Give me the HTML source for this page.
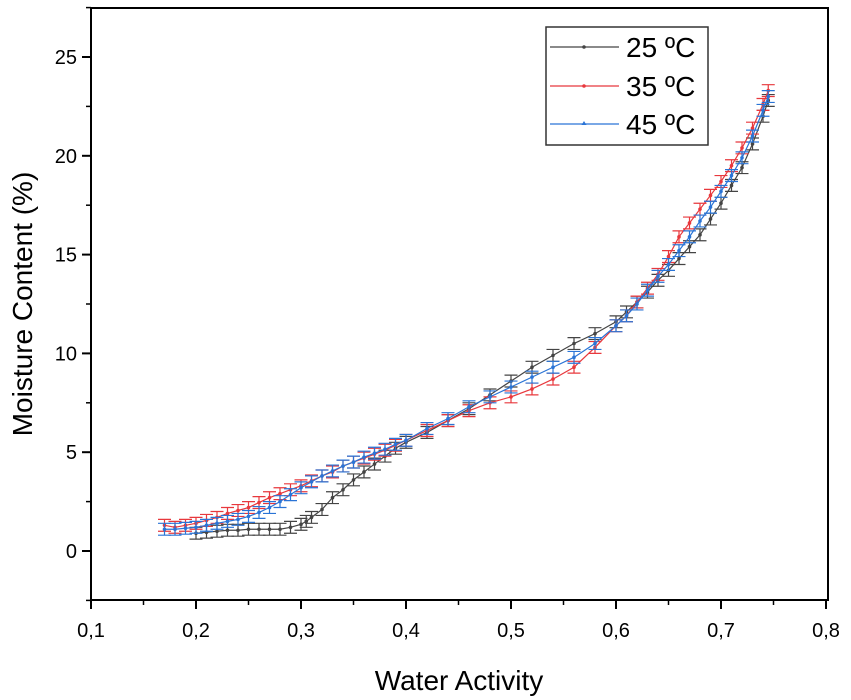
<!DOCTYPE html>
<html><head><meta charset="utf-8"><style>
body{margin:0;background:#fff;}
svg{display:block;font-family:"Liberation Sans",Arial,sans-serif;}
</style></head><body>
<svg id="chart" width="851" height="700">
<g id="marks"></g>
<rect x="91" y="8" width="737" height="592" fill="none" stroke="#000" stroke-width="2"/>
<g id="axes"></g>
<text x="459" y="690" font-size="28" text-anchor="middle">Water Activity</text>
<text transform="translate(32,304) rotate(-90)" font-size="28" text-anchor="middle">Moisture Content (%)</text>
<g>
<rect x="546" y="27" width="162" height="118" fill="#fff" stroke="#333" stroke-width="1.5"/>
<g><line x1="550" y1="47" x2="619" y2="47" stroke="#444" stroke-width="1.2"/><circle cx="584" cy="47" r="1.8" fill="#444"/><text x="626" y="57" font-size="28">25 ºC</text></g>
<g><line x1="550" y1="86" x2="619" y2="86" stroke="#e8383d" stroke-width="1.2"/><circle cx="584" cy="86" r="1.8" fill="#e8383d"/><text x="626" y="96" font-size="28">35 ºC</text></g>
<g><line x1="550" y1="124" x2="619" y2="124" stroke="#2a74d6" stroke-width="1.2"/><path d="M584 121 l2.5 4 h-5z" fill="#2a74d6"/><text x="626" y="134" font-size="28">45 ºC</text></g>
</g>
</svg>
<script>
const xTicks=[0.1,0.2,0.3,0.4,0.5,0.6,0.7,0.8];
const xTickLabels=["0,1","0,2","0,3","0,4","0,5","0,6","0,7","0,8"];
const yTicks=[0,5,10,15,20,25];
const yTickLabels=["0","5","10","15","20","25"];
const aw25=[0.2,0.21,0.22,0.23,0.24,0.25,0.26,0.27,0.28,0.29,0.3,0.305,0.31,0.32,0.33,0.34,0.35,0.36,0.37,0.38,0.39,0.4,0.42,0.44,0.46,0.48,0.5,0.52,0.54,0.56,0.58,0.6,0.61,0.62,0.63,0.64,0.65,0.66,0.67,0.68,0.69,0.7,0.71,0.72,0.73,0.74,0.745];
const mc25=[0.9,0.95,1.0,1.05,1.05,1.1,1.1,1.1,1.1,1.2,1.35,1.5,1.7,2.1,2.7,3.1,3.6,4.0,4.4,4.8,5.2,5.5,6.0,6.6,7.2,7.9,8.6,9.3,9.9,10.5,11.0,11.6,12.1,12.6,13.1,13.7,14.2,14.8,15.4,16.0,16.8,17.6,18.5,19.4,20.6,22.0,22.8];
const aw35=[0.17,0.18,0.19,0.2,0.21,0.22,0.23,0.24,0.25,0.26,0.27,0.28,0.29,0.3,0.31,0.32,0.33,0.34,0.35,0.36,0.37,0.38,0.39,0.4,0.42,0.44,0.46,0.48,0.5,0.52,0.54,0.56,0.58,0.6,0.61,0.62,0.63,0.64,0.65,0.66,0.67,0.68,0.69,0.7,0.71,0.72,0.73,0.74,0.745];
const mc35=[1.3,1.2,1.3,1.4,1.55,1.7,1.9,2.05,2.2,2.45,2.7,2.9,3.1,3.3,3.55,3.8,4.0,4.3,4.5,4.7,4.9,5.1,5.35,5.6,6.1,6.6,7.1,7.5,7.8,8.2,8.7,9.3,10.3,11.4,11.9,12.6,13.3,14.0,14.9,15.9,16.6,17.3,18.0,18.7,19.5,20.4,21.4,22.6,23.3];
const aw45=[0.17,0.18,0.19,0.2,0.21,0.22,0.23,0.24,0.25,0.26,0.27,0.28,0.29,0.3,0.31,0.32,0.33,0.34,0.35,0.36,0.37,0.38,0.39,0.4,0.42,0.44,0.46,0.48,0.5,0.52,0.54,0.56,0.58,0.6,0.61,0.62,0.63,0.64,0.65,0.66,0.67,0.68,0.69,0.7,0.71,0.72,0.73,0.74,0.745];
const mc45=[1.1,1.1,1.15,1.2,1.3,1.4,1.5,1.6,1.75,1.95,2.2,2.5,2.85,3.2,3.5,3.8,4.05,4.3,4.5,4.75,4.95,5.15,5.4,5.6,6.2,6.7,7.3,7.8,8.3,8.8,9.3,9.8,10.5,11.4,11.9,12.5,13.2,13.9,14.5,15.2,15.9,16.7,17.4,18.2,19.0,19.9,21.0,22.3,23.0];
const errs=[0.3,0.3,0.3];

const X=a=>91+(a-0.1)*1050;
const Y=m=>551-m*19.76;
const NS="http://www.w3.org/2000/svg";
function mk(tag,attrs,parent){const e=document.createElementNS(NS,tag);for(const k in attrs)e.setAttribute(k,attrs[k]);parent.appendChild(e);return e;}
const axes=document.getElementById('axes');
xTicks.forEach((v,i)=>{
  const l=mk('line',{x1:X(v),x2:X(v),y1:600,y2:609,stroke:'#000','stroke-width':2},axes);
  
  
  if(i<xTicks.length-1){const m=mk('line',{x1:X(v+0.05),x2:X(v+0.05),y1:600,y2:605,stroke:'#000','stroke-width':1.5},axes);
  
  }
  const t=mk('text',{x:X(v),y:637,'font-size':20,'text-anchor':'middle'},axes);t.textContent=xTickLabels[i];
  
  
});
for(let v=-2.5;v<=27.5;v+=2.5){
  const major=yTicks.includes(v);
  const l=mk('line',{x1:major?82:86,x2:91,y1:Y(v),y2:Y(v),stroke:'#000','stroke-width':major?2:1.5},axes);
  
  
}
yTicks.forEach((v,i)=>{
  const t=mk('text',{x:77,y:Y(v)+7,'font-size':20,'text-anchor':'end'},axes);t.textContent=yTickLabels[i];
  
  
});
const marks=document.getElementById('marks');
const series=[[aw25,mc25,'#444','series-25c'],[aw35,mc35,'#e8383d','series-35c'],[aw45,mc45,'#2a74d6','series-45c']];
series.forEach(([xs,ys,c,n],si)=>{
  const g=mk('g',{},marks);
  
  
  const pl=mk('polyline',{points:xs.map((a,i)=>X(a)+','+Y(ys[i])).join(' '),fill:'none',stroke:c,'stroke-width':1.2},g);
  
  
  xs.forEach((a,i)=>{
    const x=X(a),y1=Y(ys[i]+errs[si]),y2=Y(ys[i]-errs[si]);
    const eb=mk('path',{d:`M${x} ${y1}V${y2}M${x-6.5} ${y1}h13M${x-6.5} ${y2}h13`,stroke:c,'stroke-width':1.2,fill:'none'},g);
    
    
    const p=mk('circle',{cx:x,cy:Y(ys[i]),r:1.8,fill:c},g);
    
    
  });
});
</script>
</body></html>
